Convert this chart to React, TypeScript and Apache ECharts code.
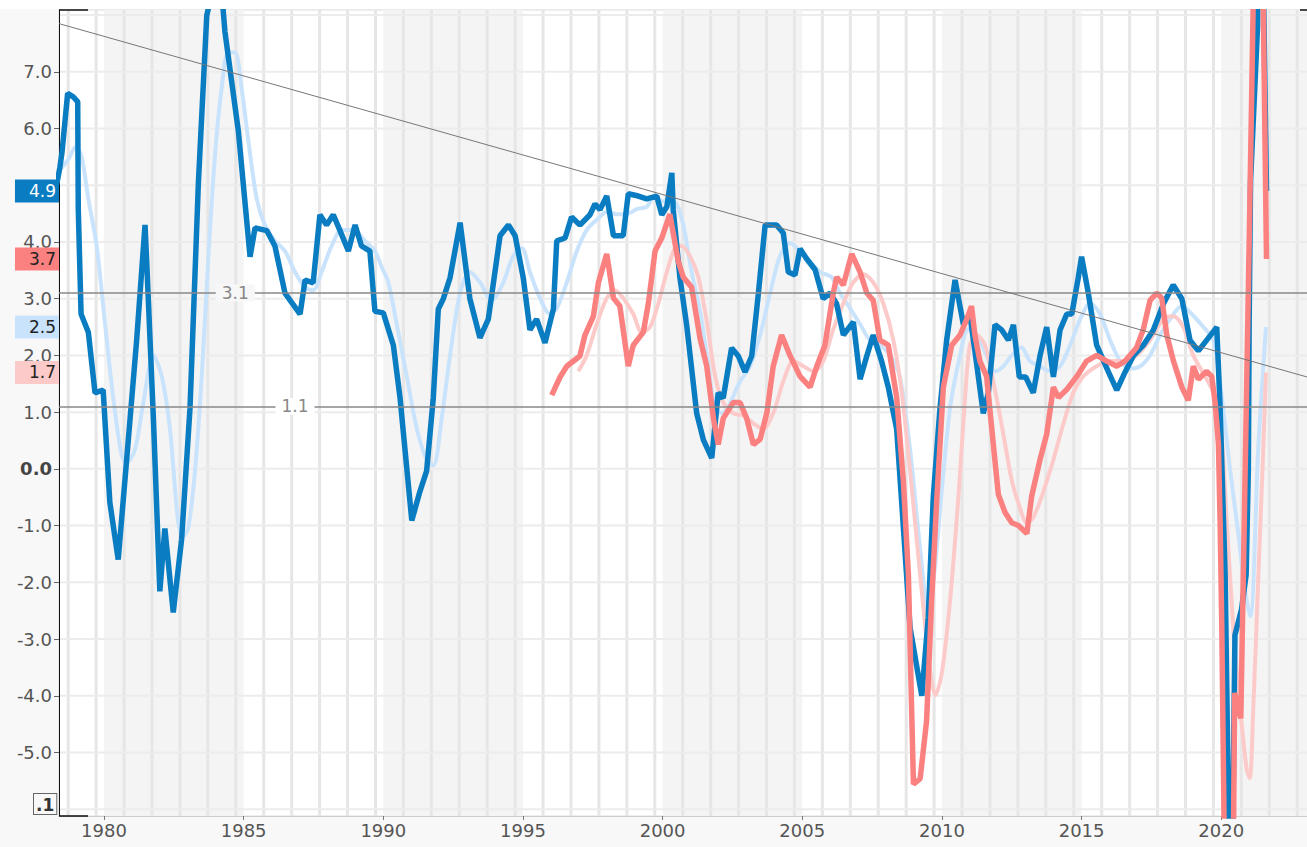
import React, { useEffect, useRef } from "react";
import * as echarts from "echarts";

const X_MIN = 1978.39;
const X_MAX = 2023.07;
const Y_MIN = -6.12;
const Y_MAX = 8.09;

const xTickYears = [1980, 1985, 1990, 1995, 2000, 2005, 2010, 2015, 2020];
// 5.0 is hidden behind the last-value box in the reference
const yTickValues = [-5, -4, -3, -2, -1, 0, 1, 2, 3, 4, 6, 7];
const ySplitValues = [-6, -5, -4, -3, -2, -1, 0, 1, 2, 3, 4, 5, 6, 7, 8];
const gridYears = [1978, 1979, 1980, 1981, 1982, 1983, 1984, 1985, 1986, 1987, 1988, 1989, 1990, 1991, 1992, 1993, 1994, 1995, 1996, 1997, 1998, 1999, 2000, 2001, 2002, 2003, 2004, 2005, 2006, 2007, 2008, 2009, 2010, 2011, 2012, 2013, 2014, 2015, 2016, 2017, 2018, 2019, 2020, 2021, 2022];
const gridOffset = 0.72;
const shadedBands = [[1980, 1985], [1990, 1995], [2000, 2005], [2010, 2015], [2020, 2023.07]];

// dark blue series
const usX = [1978.3, 1978.42, 1978.5, 1978.7, 1978.9, 1979.06, 1979.08, 1979.18, 1979.44, 1979.68, 1979.97, 1980.21, 1980.51, 1980.81, 1981.17, 1981.47, 1981.53, 1981.77, 1982.0, 1982.18, 1982.48, 1982.78, 1983.08, 1983.38, 1983.68, 1983.95, 1984.2, 1984.33, 1984.81, 1985.23, 1985.41, 1985.83, 1986.12, 1986.48, 1987.02, 1987.2, 1987.49, 1987.73, 1987.97, 1988.21, 1988.45, 1988.75, 1988.99, 1989.22, 1989.52, 1989.7, 1990.0, 1990.36, 1990.6, 1991.02, 1991.31, 1991.55, 1991.79, 1991.97, 1992.15, 1992.39, 1992.75, 1993.1, 1993.46, 1993.76, 1994.18, 1994.48, 1994.72, 1995.01, 1995.25, 1995.49, 1995.79, 1996.09, 1996.21, 1996.51, 1996.74, 1997.04, 1997.4, 1997.58, 1997.76, 1998.0, 1998.24, 1998.59, 1998.77, 1999.13, 1999.43, 1999.79, 1999.97, 2000.15, 2000.33, 2000.38, 2000.62, 2000.86, 2001.22, 2001.46, 2001.76, 2001.99, 2002.17, 2002.47, 2002.71, 2002.95, 2003.19, 2003.43, 2003.67, 2004.08, 2004.32, 2004.5, 2004.74, 2004.92, 2005.16, 2005.46, 2005.75, 2005.99, 2006.23, 2006.47, 2006.83, 2007.07, 2007.31, 2007.54, 2007.84, 2008.08, 2008.38, 2008.56, 2008.86, 2009.28, 2009.51, 2009.69, 2009.93, 2010.17, 2010.47, 2010.77, 2011.0, 2011.18, 2011.48, 2011.66, 2011.9, 2012.14, 2012.38, 2012.56, 2012.77, 2013.0, 2013.27, 2013.51, 2013.75, 2013.99, 2014.23, 2014.47, 2014.65, 2014.88, 2015.0, 2015.24, 2015.54, 2015.96, 2016.26, 2016.56, 2016.85, 2017.21, 2017.57, 2017.93, 2018.28, 2018.59, 2018.88, 2019.18, 2019.48, 2019.84, 2019.96, 2020.14, 2020.35, 2020.49, 2020.73, 2020.89, 2020.97, 2021.0, 2021.05, 2021.3, 2021.4, 2021.62];
const usY = [5.0, 5.31, 5.59, 6.62, 6.56, 6.47, 4.58, 2.73, 2.41, 1.34, 1.39, -0.59, -1.6, 0.15, 2.27, 4.3, 3.65, 0.88, -2.16, -1.05, -2.53, -1.24, 1.07, 5.04, 7.99, 8.6, 8.5, 7.71, 5.96, 3.74, 4.25, 4.2, 3.93, 3.1, 2.73, 3.33, 3.28, 4.48, 4.3, 4.48, 4.2, 3.84, 4.3, 3.93, 3.84, 2.78, 2.75, 2.18, 1.25, -0.91, -0.4, -0.04, 1.25, 2.82, 3.0, 3.37, 4.34, 3.0, 2.31, 2.64, 4.11, 4.3, 4.11, 3.37, 2.45, 2.64, 2.22, 2.82, 4.02, 4.07, 4.44, 4.3, 4.48, 4.67, 4.57, 4.81, 4.11, 4.11, 4.85, 4.81, 4.76, 4.81, 4.48, 4.62, 5.22, 4.57, 3.37, 2.54, 0.98, 0.51, 0.19, 1.34, 1.25, 2.13, 1.99, 1.71, 1.99, 3.1, 4.3, 4.3, 4.16, 3.47, 3.42, 3.88, 3.7, 3.51, 3.0, 3.1, 2.91, 2.36, 2.59, 1.58, 1.99, 2.36, 1.9, 1.44, 0.7, -0.59, -2.8, -4.0, -2.62, -0.5, 1.07, 2.27, 3.33, 2.54, 2.73, 2.08, 0.98, 1.34, 2.54, 2.45, 2.27, 2.54, 1.62, 1.62, 1.34, 1.99, 2.5, 1.62, 2.45, 2.73, 2.73, 3.37, 3.74, 3.1, 2.18, 1.71, 1.39, 1.71, 1.99, 2.18, 2.45, 2.91, 3.24, 3.0, 2.27, 2.08, 2.27, 2.5, 1.07, -1.88, -9.1, -2.93, -2.47, -1.87, -0.03, 2.64, 5.08, 7.8, 12.2, 4.9];

// light blue series
const usSmoothX = [1978.3, 1978.42, 1978.72, 1978.99, 1979.2, 1979.44, 1979.74, 1980.04, 1980.33, 1980.63, 1980.81, 1981.11, 1981.41, 1981.77, 1982.07, 1982.36, 1982.66, 1982.84, 1983.02, 1983.26, 1983.5, 1983.73, 1983.97, 1984.21, 1984.45, 1984.69, 1984.93, 1985.17, 1985.47, 1985.76, 1986.12, 1986.48, 1986.84, 1987.2, 1987.49, 1987.79, 1988.15, 1988.51, 1988.93, 1989.34, 1989.7, 1989.95, 1990.18, 1990.48, 1990.84, 1991.2, 1991.55, 1991.79, 1992.09, 1992.39, 1992.75, 1993.1, 1993.46, 1993.88, 1994.3, 1994.65, 1994.96, 1995.25, 1995.61, 1995.97, 1996.21, 1996.57, 1996.93, 1997.28, 1997.64, 1998.0, 1998.36, 1998.71, 1999.07, 1999.43, 1999.73, 1999.97, 2000.26, 2000.5, 2000.74, 2001.04, 2001.34, 2001.58, 2001.88, 2002.12, 2002.42, 2002.77, 2003.13, 2003.49, 2003.85, 2004.2, 2004.56, 2004.92, 2005.28, 2005.64, 2006.05, 2006.35, 2006.71, 2007.07, 2007.42, 2007.78, 2008.14, 2008.49, 2008.86, 2009.22, 2009.51, 2009.76, 2009.99, 2010.29, 2010.65, 2010.94, 2011.24, 2011.6, 2011.9, 2012.2, 2012.5, 2012.85, 2013.15, 2013.51, 2013.87, 2014.23, 2014.59, 2014.95, 2015.31, 2015.66, 2016.02, 2016.38, 2016.74, 2017.1, 2017.45, 2017.81, 2018.17, 2018.59, 2018.94, 2019.36, 2019.72, 2020.02, 2020.32, 2020.61, 2020.85, 2021.04, 2021.33, 2021.6];
const usSmoothY = [5.2, 5.27, 5.45, 5.68, 5.5, 4.76, 3.93, 2.55, 1.26, 0.25, 0.11, 0.34, 1.17, 2.0, 1.63, 0.71, -0.95, -1.18, -1.04, -0.03, 1.63, 3.66, 5.5, 6.7, 7.34, 7.34, 6.7, 5.78, 4.76, 4.3, 4.02, 3.84, 3.47, 3.2, 3.15, 3.47, 3.93, 4.21, 4.21, 4.02, 3.84, 3.55, 3.29, 2.55, 1.63, 0.71, 0.16, 0.06, 0.89, 2.0, 3.1, 3.47, 3.29, 2.97, 3.29, 3.75, 3.89, 3.47, 3.01, 2.73, 2.83, 3.29, 3.84, 4.21, 4.39, 4.53, 4.49, 4.49, 4.58, 4.62, 4.81, 4.72, 4.72, 4.67, 4.3, 3.47, 2.78, 2.0, 1.07, 0.98, 1.17, 1.54, 1.81, 2.36, 3.1, 3.75, 3.98, 3.84, 3.66, 3.47, 3.38, 3.1, 2.83, 2.55, 2.27, 2.18, 2.0, 1.63, 0.34, -1.41, -2.52, -1.69, -0.4, 1.07, 2.0, 2.46, 2.36, 2.0, 1.72, 1.81, 2.0, 2.14, 1.9, 1.81, 1.72, 1.81, 2.18, 2.64, 2.92, 2.73, 2.27, 1.9, 1.77, 1.81, 2.0, 2.36, 2.64, 2.87, 2.73, 2.5, 2.27, 1.26, -0.03, -1.14, -2.15, -2.6, 0.43, 2.5];

// red series
const euX = [1996.03, 1996.33, 1996.57, 1997.04, 1997.22, 1997.52, 1997.7, 1998.0, 1998.24, 1998.47, 1998.77, 1998.95, 1999.31, 1999.49, 1999.73, 1999.97, 2000.26, 2000.56, 2000.74, 2001.04, 2001.34, 2001.58, 2001.82, 2001.99, 2002.17, 2002.53, 2002.77, 2003.01, 2003.25, 2003.49, 2003.73, 2003.96, 2004.26, 2004.56, 2004.92, 2005.28, 2005.52, 2005.81, 2006.11, 2006.23, 2006.47, 2006.77, 2007.07, 2007.31, 2007.54, 2007.78, 2008.08, 2008.38, 2008.62, 2008.8, 2008.98, 2009.22, 2009.45, 2009.63, 2009.81, 2010.05, 2010.35, 2010.65, 2010.89, 2011.06, 2011.18, 2011.36, 2011.6, 2011.84, 2012.02, 2012.26, 2012.5, 2012.74, 2013.04, 2013.21, 2013.51, 2013.75, 2013.99, 2014.17, 2014.47, 2014.83, 2015.18, 2015.54, 2015.9, 2016.26, 2016.56, 2016.97, 2017.21, 2017.45, 2017.69, 2017.87, 2018.05, 2018.29, 2018.59, 2018.82, 2019.0, 2019.18, 2019.48, 2019.66, 2019.78, 2019.9, 2019.96, 2020.02, 2020.3, 2020.48, 2020.7, 2020.9, 2021.0, 2021.35, 2021.62];
const euY = [1.3, 1.62, 1.81, 1.99, 2.36, 2.69, 3.28, 3.79, 3.01, 2.87, 1.81, 2.18, 2.41, 2.92, 3.84, 4.07, 4.49, 3.66, 3.38, 3.2, 2.3, 1.81, 0.89, 0.43, 0.89, 1.17, 1.17, 0.89, 0.43, 0.52, 0.98, 1.81, 2.36, 2.0, 1.63, 1.44, 1.81, 2.18, 3.1, 3.38, 3.24, 3.79, 3.47, 3.1, 2.97, 2.27, 2.18, 1.26, -0.22, -1.87, -5.56, -5.46, -4.45, -2.33, -0.59, 1.44, 2.18, 2.36, 2.64, 2.87, 2.36, 1.9, 1.63, 0.43, -0.45, -0.77, -0.95, -1.0, -1.14, -0.49, 0.16, 0.61, 1.44, 1.26, 1.4, 1.63, 1.9, 2.0, 1.9, 1.81, 1.9, 2.14, 2.46, 2.97, 3.1, 3.01, 2.36, 1.9, 1.44, 1.21, 1.81, 1.58, 1.72, 1.63, 1.17, 0.43, -0.95, -2.8, -14.6, -3.95, -4.4, 1.2, 4.0, 14.2, 3.7];

// light pink series
const euSmoothX = [1996.98, 1997.28, 1997.64, 1998.0, 1998.29, 1998.59, 1998.95, 1999.25, 1999.55, 1999.85, 2000.15, 2000.44, 2000.68, 2000.98, 2001.28, 2001.58, 2001.88, 2002.17, 2002.53, 2002.89, 2003.25, 2003.6, 2003.96, 2004.32, 2004.68, 2005.04, 2005.4, 2005.75, 2006.11, 2006.47, 2006.83, 2007.19, 2007.54, 2007.9, 2008.26, 2008.56, 2008.86, 2009.22, 2009.57, 2009.76, 2009.99, 2010.29, 2010.59, 2010.83, 2011.0, 2011.24, 2011.54, 2011.84, 2012.2, 2012.5, 2012.8, 2013.04, 2013.27, 2013.63, 2013.99, 2014.35, 2014.71, 2015.06, 2015.54, 2016.02, 2016.49, 2016.97, 2017.45, 2017.93, 2018.28, 2018.64, 2019.0, 2019.42, 2019.72, 2019.96, 2020.2, 2020.43, 2020.67, 2020.91, 2021.02, 2021.15, 2021.33, 2021.51, 2021.6];
const euSmoothY = [1.72, 2.0, 2.55, 3.01, 3.15, 3.01, 2.73, 2.41, 2.5, 2.92, 3.47, 3.89, 3.93, 3.75, 3.38, 2.6, 1.63, 1.17, 0.98, 0.94, 0.8, 0.7, 0.98, 1.54, 1.9, 1.81, 1.72, 1.9, 2.46, 2.92, 3.29, 3.43, 3.29, 2.92, 2.27, 1.35, -0.03, -1.87, -3.53, -3.99, -3.62, -2.33, -0.49, 1.26, 2.18, 2.36, 2.18, 1.54, 0.61, -0.2, -0.7, -0.95, -0.86, -0.4, 0.16, 0.8, 1.35, 1.63, 1.81, 1.9, 1.9, 2.0, 2.27, 2.64, 2.69, 2.5, 2.0, 1.63, 1.35, 0.89, -0.95, -2.8, -4.18, -5.3, -5.45, -4.18, -1.87, 0.43, 1.7];

const trendStart = [X_MIN, 7.85];
const trendEnd = [X_MAX, 1.62];
const refLevels = [3.1, 1.1];
const refLabelYears = [1984.7, 1986.84];
const refLabelBg = ["#f7f7f7", "#ffffff"];

const BLUE = "#0a7cc1";
const LIGHT_BLUE = "#c9e3fc";
const RED = "#fb8080";
const PINK = "#fdcaca";
const FONT = "DejaVu Sans";

const zip = (xs: number[], ys: number[]) => xs.map((x, i) => [x, ys[i]]);

const lastLabel = (value: number, bg: string, fg: string) => ({
  symbol: "rect",
  symbolSize: 0,
  silent: true,
  z: 20,
  data: [{ coord: [X_MIN, value], value }],
  label: {
    show: true,
    position: "left",
    distance: 0,
    formatter: value.toFixed(1),
    backgroundColor: bg,
    color: fg,
    fontFamily: FONT,
    fontSize: 17,
    lineHeight: 18,
    padding: [3, 3, 2, 14],
  },
});

export default function App() {
  const ref = useRef<HTMLDivElement>(null);
  useEffect(() => {
    if (!ref.current) return;
    const chart = echarts.init(ref.current, null, { renderer: "svg" });
    const option: any = {
      animation: false,
      backgroundColor: "#f8f8f8",
      textStyle: { fontFamily: FONT },
      grid: {
        left: 59,
        right: 0,
        top: 10,
        bottom: 31,
        show: true,
        backgroundColor: "#ffffff",
        borderColor: "#dddddd",
        borderWidth: 1,
      },
      xAxis: {
        type: "value",
        min: X_MIN,
        max: X_MAX,
        z: 3,
        axisLine: { show: true, onZero: false, lineStyle: { color: "#cccccc", width: 1 } },
        axisTick: { show: true, length: 4, customValues: xTickYears, lineStyle: { color: "#777" } },
        axisLabel: {
          customValues: xTickYears,
          color: "#555",
          fontSize: 18,
          fontFamily: FONT,
          margin: 5,
          formatter: (v: number) => String(Math.round(v)),
        },
        splitLine: { show: false },
      },
      yAxis: {
        type: "value",
        min: Y_MIN,
        max: Y_MAX,
        z: 3,
        axisLine: { show: true, onZero: false, lineStyle: { color: "#111", width: 1 } },
        axisTick: { show: true, length: 5, customValues: yTickValues, lineStyle: { color: "#666" } },
        axisLabel: {
          customValues: yTickValues,
          color: "#555",
          fontSize: 18,
          lineHeight: 12,
          fontFamily: FONT,
          margin: 7,
          formatter: (v: number) => (Math.abs(v) < 1e-9 ? "{b|0.0}" : v.toFixed(1)),
          rich: { b: { fontWeight: "bold", fontSize: 18, lineHeight: 12, color: "#444", fontFamily: FONT } },
        },
        splitLine: { show: false },
      },
      series: [
        {
          type: "custom",
          name: "bands",
          z: 1,
          silent: true,
          clip: true,
          data: shadedBands.map((b) => [b[0], b[1], Y_MIN, Y_MAX]),
          encode: { x: [0, 1], y: [2, 3] },
          renderItem: (params: any, api: any) => {
            const a = api.coord([api.value(0), Y_MAX]);
            const b = api.coord([api.value(1), Y_MIN]);
            return {
              type: "rect",
              shape: { x: a[0], y: a[1], width: b[0] - a[0], height: b[1] - a[1] },
              style: { fill: "#f4f4f4" },
            };
          },
        },
        {
          type: "custom",
          name: "vgrid",
          z: 2,
          silent: true,
          clip: true,
          data: gridYears.map((y) => [y + gridOffset, Y_MIN, Y_MAX]),
          encode: { x: 0, y: [1, 2] },
          renderItem: (params: any, api: any) => {
            const a = api.coord([api.value(0), Y_MAX]);
            const b = api.coord([api.value(0), Y_MIN]);
            return {
              type: "line",
              shape: { x1: a[0], y1: a[1], x2: b[0], y2: b[1] },
              style: { stroke: "#e6e6e6", lineWidth: 3 },
            };
          },
        },
        {
          type: "custom",
          name: "hgrid",
          z: 2,
          silent: true,
          clip: true,
          data: ySplitValues.map((v) => [X_MIN, X_MAX, v]),
          encode: { x: [0, 1], y: 2 },
          renderItem: (params: any, api: any) => {
            const a = api.coord([X_MIN, api.value(2)]);
            const b = api.coord([X_MAX, api.value(2)]);
            return {
              type: "line",
              shape: { x1: a[0], y1: a[1], x2: b[0], y2: b[1] },
              style: { stroke: "#ececec", lineWidth: 2 },
            };
          },
        },
        {
          type: "line",
          name: "usSmooth",
          z: 3,
          symbol: "none",
          smooth: 0.3,
          data: zip(usSmoothX, usSmoothY),
          lineStyle: { color: LIGHT_BLUE, width: 4 },
          itemStyle: { color: LIGHT_BLUE },
          markPoint: lastLabel(usSmoothY[usSmoothY.length - 1], LIGHT_BLUE, "#222"),
        },
        {
          type: "line",
          name: "euSmooth",
          z: 4,
          symbol: "none",
          smooth: 0.3,
          data: zip(euSmoothX, euSmoothY),
          lineStyle: { color: PINK, width: 4 },
          itemStyle: { color: PINK },
          markPoint: lastLabel(euSmoothY[euSmoothY.length - 1], PINK, "#222"),
        },
        {
          type: "line",
          name: "us",
          z: 5,
          symbol: "none",
          data: zip(usX, usY),
          lineStyle: { color: BLUE, width: 5.5 },
          itemStyle: { color: BLUE },
          markPoint: lastLabel(usY[usY.length - 1], BLUE, "#ffffff"),
        },
        {
          type: "line",
          name: "eu",
          z: 6,
          symbol: "none",
          data: zip(euX, euY),
          lineStyle: { color: RED, width: 5.5 },
          itemStyle: { color: RED },
          markPoint: lastLabel(euY[euY.length - 1], RED, "#222"),
        },
        {
          type: "line",
          name: "trend",
          z: 10,
          silent: true,
          symbol: "none",
          data: [trendStart, trendEnd],
          lineStyle: { color: "#777", width: 1 },
          markLine: {
            z: 10,
            silent: true,
            symbol: "none",
            label: { show: false },
            lineStyle: { color: "#888", width: 1.5, type: "solid" },
            data: refLevels.map((v) => ({ yAxis: v })),
          },
          markPoint: {
            z: 11,
            symbol: "rect",
            symbolSize: 0,
            silent: true,
            data: refLevels.map((v, i) => ({
              coord: [refLabelYears[i], v],
              value: v,
              label: { backgroundColor: refLabelBg[i] },
            })),
            label: {
              show: true,
              position: "inside",
              formatter: (p: any) => Number(p.value).toFixed(1),
              color: "#888",
              fontSize: 17,
              fontFamily: FONT,
              padding: [0, 6],
            },
          },
        },
      ],
      graphic: [
        { type: "rect", left: 0, top: 0, shape: { width: 1307, height: 9 }, style: { fill: "#ffffff" }, silent: true, z: 10 },
        { type: "line", shape: { x1: 59, y1: 10, x2: 88, y2: 10 }, style: { stroke: "#111", lineWidth: 1.5 }, z: 10 },
        { type: "line", shape: { x1: 59, y1: 816, x2: 88, y2: 816 }, style: { stroke: "#111", lineWidth: 1.5 }, z: 10 },
        { type: "line", shape: { x1: 1300, y1: 10, x2: 1307, y2: 10 }, style: { stroke: "#111", lineWidth: 1.5 }, z: 10 },
        {
          type: "text",
          left: 33,
          top: 793,
          z: 10,
          style: {
            text: ".1",
            fontSize: 17,
            fontWeight: "bold",
            fontFamily: FONT,
            fill: "#333",
            backgroundColor: "#f8f8f8",
            borderColor: "#666",
            borderWidth: 1,
            padding: [2, 2, 1, 2],
          },
        },
      ],
    };
    chart.setOption(option);
    return () => chart.dispose();
  }, []);
  return <div ref={ref} style={{ position: "absolute", left: 0, top: 0, width: 1307, height: 847 }} />;
}
